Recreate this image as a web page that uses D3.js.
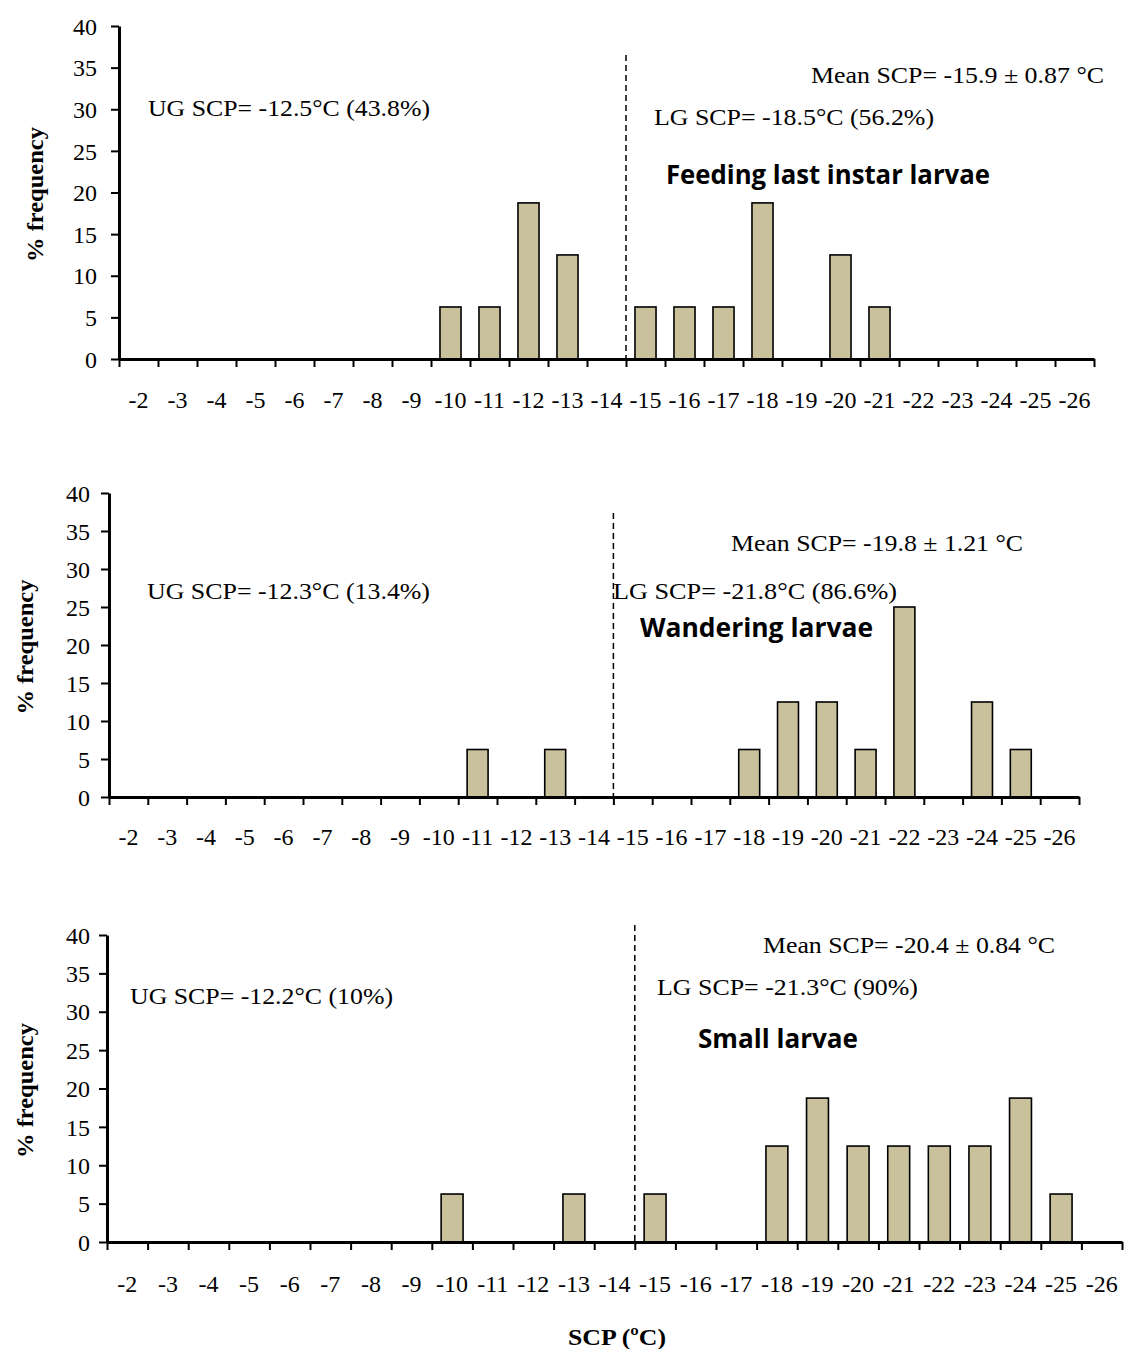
<!DOCTYPE html>
<html>
<head>
<meta charset="utf-8">
<script src="https://cdn.jsdelivr.net/npm/d3@7"></script>
<style>
  html, body { margin: 0; padding: 0; background: #fff; }
  svg { display: block; }
</style>
</head>
<body>
<svg id="chart" width="1126" height="1349"></svg>
<script>
// ---------- DATA ----------
const categories = ["-2","-3","-4","-5","-6","-7","-8","-9","-10","-11","-12","-13","-14",
                    "-15","-16","-17","-18","-19","-20","-21","-22","-23","-24","-25","-26"];
const feedingValues   = [0,0,0,0,0,0,0,0,6.25,6.25,18.75,12.5,0,6.25,6.25,6.25,18.75,0,12.5,6.25,0,0,0,0,0];
const wanderingValues = [0,0,0,0,0,0,0,0,0,6.25,0,6.25,0,0,0,0,6.25,12.5,12.5,6.25,25,0,12.5,6.25,0];
const smallValues     = [0,0,0,0,0,0,0,0,6.25,0,0,6.25,0,6.25,0,0,12.5,18.75,12.5,12.5,12.5,12.5,18.75,6.25,0];
const yTicks = [0,5,10,15,20,25,30,35,40];
const panelTitles = ["Feeding last instar larvae", "Wandering larvae", "Small larvae"];
const meanLabels = ["Mean SCP= -15.9 \u00B1 0.87 \u00B0C", "Mean SCP= -19.8 \u00B1 1.21 \u00B0C", "Mean SCP= -20.4 \u00B1 0.84 \u00B0C"];
const ugLabels = ["UG SCP= -12.5\u00B0C (43.8%)", "UG SCP= -12.3\u00B0C (13.4%)", "UG SCP= -12.2\u00B0C (10%)"];
const lgLabels = ["LG SCP= -18.5\u00B0C (56.2%)", "LG SCP= -21.8\u00B0C (86.6%)", "LG SCP= -21.3\u00B0C (90%)"];
const splitCategory = "-15"; // dashed line at left edge of this bin
const yTitle = "% frequency";
const xTitle = "SCP (\u00BAC)";

// ---------- LAYOUT ----------
const panels = [
  { values: feedingValues, x0: 119, x1: 1094, yTop: 26, yBot: 359, dashTop: 55, yPad: 14, xPad: 35, yTitleX: 35,
    mean: [811, 83, 293], ug: [148, 116, 282], lg: [654, 125, 280], title: [666, 184, 324] },
  { values: wanderingValues, x0: 109, x1: 1079, yTop: 493, yBot: 797, dashTop: 513, yPad: 11, xPad: 34, yTitleX: 25,
    mean: [731, 551, 292], ug: [147, 599, 283], lg: [613, 599, 284], title: [640, 637, 233] },
  { values: smallValues, x0: 107, x1: 1122, yTop: 935, yBot: 1242, dashTop: 925, yPad: 9, xPad: 36, yTitleX: 25,
    mean: [763, 953, 292], ug: [130, 1004, 263], lg: [657, 995, 261], title: [698, 1048, 160] }
];

const svg = d3.select("#chart");
const serif = "'Liberation Serif', 'Times New Roman', serif";
const sans = "'Open Sans', 'Noto Sans', sans-serif";

panels.forEach((p, i) => {
  const g = svg.append("g");
  const x = d3.scaleBand().domain(categories).range([p.x0, p.x1]).paddingInner(0.46).paddingOuter(0.23);
  const xEdge = d3.scaleLinear().domain([0, categories.length]).range([p.x0, p.x1]);
  const y = d3.scaleLinear().domain([0, 40]).range([p.yBot, p.yTop]);

  // bars
  g.selectAll("rect.bar")
    .data(categories.map((c, k) => ({ c, v: p.values[k] })).filter(d => d.v > 0))
    .join("rect")
    .attr("class", "bar")
    .attr("x", d => x(d.c))
    .attr("width", x.bandwidth())
    .attr("y", d => y(d.v))
    .attr("height", d => y(0) - y(d.v))
    .attr("fill", "#C8C19C")
    .attr("stroke", "#000")
    .attr("stroke-width", 1.6);

  // dashed divider
  const splitIdx = categories.indexOf(splitCategory);
  g.append("line")
    .attr("x1", xEdge(splitIdx)).attr("x2", xEdge(splitIdx))
    .attr("y1", p.dashTop).attr("y2", p.yBot)
    .attr("stroke", "#000").attr("stroke-width", 1.5)
    .attr("stroke-dasharray", "6,4");

  // y axis
  const ya = g.append("g").attr("transform", `translate(${p.x0},0)`)
    .call(d3.axisLeft(y).tickValues(yTicks).tickSize(8).tickPadding(p.yPad).tickSizeOuter(0));
  ya.select(".domain").attr("stroke-width", 3);
  ya.selectAll(".tick line").attr("stroke-width", 2);
  ya.selectAll("text").attr("font-family", serif).attr("font-size", 24).attr("fill", "#000")
    .attr("dy", "0.34em");

  // x axis: boundary ticks
  const xa = g.append("g").attr("transform", `translate(0,${p.yBot})`)
    .call(d3.axisBottom(xEdge).tickValues(d3.range(categories.length + 1)).tickFormat("").tickSize(8).tickSizeOuter(0));
  xa.select(".domain").attr("stroke-width", 3);
  xa.selectAll(".tick line").attr("stroke-width", 2);

  // x axis: category labels
  const xl = g.append("g").attr("transform", `translate(0,${p.yBot})`)
    .call(d3.axisBottom(x).tickSize(0).tickPadding(p.xPad));
  xl.select(".domain").remove();
  xl.selectAll("text").attr("font-family", serif).attr("font-size", 24).attr("fill", "#000")
    .attr("dy", "0.6em");

  // y title
  const yc = (p.yTop + p.yBot) / 2 + 2;
  g.append("text")
    .attr("transform", `translate(${p.yTitleX + 8},${yc}) rotate(-90)`)
    .attr("text-anchor", "middle")
    .attr("font-family", serif).attr("font-weight", "bold").attr("font-size", 24)
    .attr("textLength", 135).attr("lengthAdjust", "spacingAndGlyphs")
    .text(yTitle);

  // annotations
  const ann = (arr, txt, fam, weight, size) => {
    g.append("text")
      .attr("x", arr[0]).attr("y", arr[1])
      .attr("font-family", fam).attr("font-weight", weight).attr("font-size", size)
      .attr("textLength", arr[2]).attr("lengthAdjust", "spacingAndGlyphs")
      .text(txt);
  };
  ann(p.mean, meanLabels[i], serif, "normal", 24);
  ann(p.ug, ugLabels[i], serif, "normal", 24);
  ann(p.lg, lgLabels[i], serif, "normal", 24);
  ann(p.title, panelTitles[i], sans, "bold", 27);
});

// x title
svg.append("text")
  .attr("x", 617).attr("y", 1345)
  .attr("text-anchor", "middle")
  .attr("font-family", serif).attr("font-weight", "bold").attr("font-size", 24)
  .attr("textLength", 98).attr("lengthAdjust", "spacingAndGlyphs")
  .text(xTitle);
</script>
</body>
</html>
